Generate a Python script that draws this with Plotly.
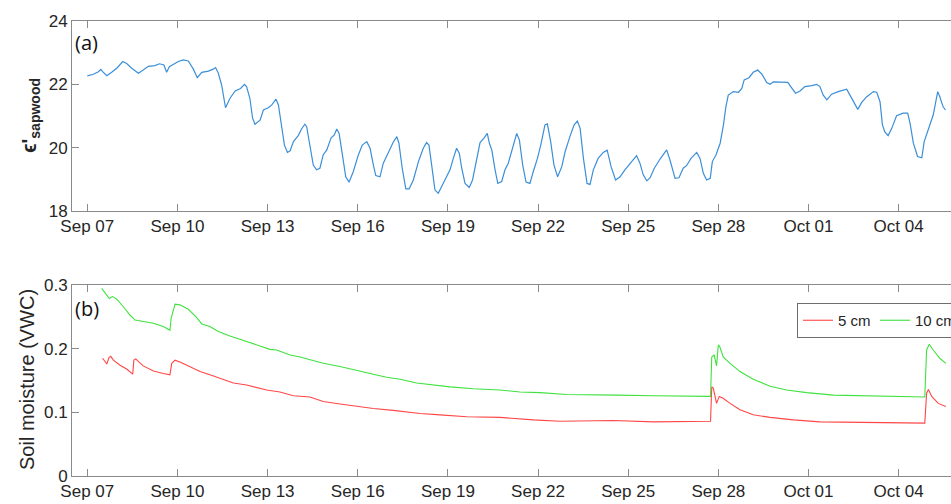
import pandas as pd
import plotly.graph_objects as go

# ---------------- data (days since Sep 07 00:00) ----------------
start = pd.Timestamp("2016-09-07")

sap_days = [0.00, 0.20, 0.37, 0.45, 0.51, 0.65, 0.81, 0.98, 1.18, 1.31, 1.48, 1.70, 1.86, 2.03, 2.25, 2.40,
            2.55, 2.64, 2.73, 2.86, 3.03, 3.19, 3.36, 3.53, 3.66, 3.81, 4.03, 4.19, 4.27, 4.36, 4.47, 4.60,
            4.75, 4.92, 5.10, 5.23, 5.30, 5.41, 5.50, 5.58, 5.75, 5.86, 6.02, 6.14, 6.28, 6.36, 6.47, 6.56,
            6.66, 6.75, 6.86, 7.02, 7.13, 7.24, 7.30, 7.41, 7.52, 7.63, 7.74, 7.85, 7.97, 8.11, 8.22, 8.30,
            8.38, 8.49, 8.60, 8.71, 8.85, 9.02, 9.15, 9.30, 9.41, 9.52, 9.60, 9.74, 9.85, 10.02, 10.18, 10.30,
            10.37, 10.48, 10.60, 10.71, 10.85, 11.02, 11.18, 11.29, 11.37, 11.46, 11.57, 11.68, 11.79, 11.90,
            12.07, 12.18, 12.29, 12.38, 12.46, 12.57, 12.71, 12.82, 12.96, 13.07, 13.20, 13.31, 13.38, 13.46,
            13.57, 13.66, 13.79, 13.90, 14.01, 14.16, 14.29, 14.38, 14.49, 14.60, 14.73, 14.84, 14.98, 15.09,
            15.23, 15.31, 15.42, 15.53, 15.65, 15.79, 15.90, 16.06, 16.20, 16.31, 16.40, 16.51, 16.63, 16.73,
            16.84, 17.00, 17.17, 17.30, 17.43, 17.58, 17.73, 17.89, 18.09, 18.28, 18.39, 18.50, 18.62, 18.73,
            18.87, 19.06, 19.28, 19.39, 19.56, 19.69, 19.83, 19.94, 20.09, 20.28, 20.39, 20.50, 20.61, 20.73,
            20.80, 20.92, 21.06, 21.17, 21.25, 21.33, 21.50, 21.67, 21.78, 21.86, 22.02, 22.16, 22.31, 22.45,
            22.61, 22.72, 22.83, 23.31, 23.44, 23.57, 23.72, 23.88, 24.11, 24.27, 24.38, 24.49, 24.61, 24.77,
            24.99, 25.27, 25.38, 25.55, 25.64, 25.77, 25.94, 26.16, 26.27, 26.38, 26.46, 26.54, 26.65, 26.77,
            26.93, 27.15, 27.30, 27.38, 27.49, 27.63, 27.77, 27.85, 28.01, 28.15, 28.30, 28.37, 28.48, 28.56]
sap_vals = [22.27, 22.32, 22.40, 22.47, 22.40, 22.27, 22.38, 22.51, 22.72, 22.66, 22.51, 22.35, 22.45, 22.57, 22.59, 22.65,
            22.61, 22.38, 22.56, 22.63, 22.72, 22.77, 22.74, 22.48, 22.21, 22.38, 22.42, 22.48, 22.53, 22.35, 21.98, 21.26,
            21.56, 21.79, 21.87, 22.00, 21.93, 21.56, 20.93, 20.74, 20.87, 21.19, 21.26, 21.35, 21.53, 21.35, 20.61, 20.08,
            19.85, 19.90, 20.19, 20.38, 20.59, 20.74, 20.66, 19.98, 19.45, 19.30, 19.35, 19.77, 19.93, 20.30, 20.40, 20.59,
            20.45, 19.77, 19.08, 18.91, 19.24, 19.77, 20.08, 20.19, 19.98, 19.45, 19.12, 19.08, 19.51, 19.85, 20.17, 20.35,
            20.14, 19.35, 18.70, 18.70, 18.98, 19.56, 19.98, 20.16, 20.08, 19.45, 18.66, 18.56, 18.77, 18.95,
            19.30, 19.66, 19.98, 19.82, 19.35, 18.87, 18.74, 18.98, 19.66, 20.16, 20.30, 20.45, 20.14, 19.93,
            19.30, 18.87, 18.93, 19.30, 19.51, 19.98, 20.45, 20.24, 19.45, 18.91, 18.87, 19.24, 19.66, 20.08,
            20.72, 20.75, 20.19, 19.45, 19.08, 19.40, 19.87, 20.35, 20.72, 20.84, 20.61, 19.66, 18.87, 18.84,
            19.30, 19.66, 19.85, 19.92, 19.40, 18.98, 19.08, 19.30, 19.54, 19.75, 19.51, 19.14, 18.95, 19.05,
            19.35, 19.64, 19.93, 19.61, 19.03, 19.05, 19.35, 19.43, 19.66, 19.85, 19.66, 19.19, 18.98, 19.03,
            19.56, 19.77, 20.14, 20.72, 21.29, 21.66, 21.77, 21.75, 21.87, 22.14, 22.21, 22.38, 22.45, 22.32,
            22.06, 22.00, 22.08, 22.06, 21.89, 21.72, 21.79, 21.93, 21.96, 22.00, 21.93, 21.66, 21.51, 21.69,
            21.77, 21.85, 21.66, 21.35, 21.21, 21.43, 21.61, 21.77, 21.75, 21.45, 20.72, 20.50, 20.38, 20.61,
            21.01, 21.09, 21.09, 20.77, 20.14, 19.72, 19.68, 20.19, 20.66, 21.03, 21.77, 21.61, 21.29, 21.19]

cm10_days = [0.48, 0.65, 0.73, 0.84, 0.98, 1.20, 1.42, 1.59, 1.86, 2.20, 2.53, 2.75, 2.79, 2.92, 3.08, 3.36,
             3.62, 3.81, 4.08, 4.36, 4.75, 5.19, 5.64, 6.08, 6.30, 6.75, 7.08, 7.41, 7.85, 8.41, 8.91, 9.41,
             9.96, 10.41, 10.96, 11.51, 12.07, 12.85, 13.73, 14.40, 15.06, 15.95, 16.84, 17.62, 18.84, 19.95,
             20.74, 20.78, 20.86, 20.94, 21.00, 21.05, 21.16, 21.39, 21.72, 22.16, 22.72, 23.27, 23.94, 24.83,
             25.71, 26.60, 27.87, 27.93, 28.02, 28.15, 28.37, 28.57]
cm10_vals = [0.295, 0.284, 0.279, 0.282, 0.278, 0.266, 0.253, 0.245, 0.243, 0.240, 0.235, 0.229, 0.248, 0.270, 0.269, 0.262,
             0.250, 0.239, 0.235, 0.227, 0.220, 0.213, 0.207, 0.199, 0.198, 0.190, 0.187, 0.183, 0.177, 0.172, 0.167, 0.161,
             0.155, 0.152, 0.146, 0.143, 0.140, 0.137, 0.135, 0.132, 0.131, 0.128, 0.128, 0.127, 0.126, 0.126,
             0.125, 0.187, 0.190, 0.173, 0.206, 0.203, 0.187, 0.177, 0.164, 0.152, 0.141, 0.135, 0.131, 0.127,
             0.126, 0.125, 0.124, 0.198, 0.207, 0.198, 0.185, 0.177]

cm5_days = [0.51, 0.65, 0.72, 0.78, 0.87, 1.09, 1.31, 1.51, 1.55, 1.61, 1.86, 2.20, 2.53, 2.75, 2.81, 2.92,
            3.14, 3.42, 3.75, 4.08, 4.42, 4.86, 5.30, 5.97, 6.41, 6.86, 7.41, 7.85, 8.41, 8.96, 9.52, 10.18,
            11.07, 11.74, 12.63, 13.73, 14.84, 15.73, 16.62, 17.50, 18.84, 19.95, 20.74, 20.78, 20.83, 20.94,
            21.03, 21.16, 21.39, 21.72, 22.16, 22.72, 23.50, 24.38, 25.49, 26.60, 27.87, 27.93, 27.99, 28.10,
            28.32, 28.57]
cm5_vals = [0.185, 0.176, 0.186, 0.188, 0.182, 0.174, 0.168, 0.160, 0.182, 0.184, 0.173, 0.165, 0.161, 0.159, 0.177, 0.182,
            0.178, 0.171, 0.164, 0.159, 0.153, 0.146, 0.143, 0.135, 0.132, 0.126, 0.124, 0.117, 0.113, 0.109, 0.106, 0.103,
            0.098, 0.096, 0.093, 0.092, 0.088, 0.086, 0.086, 0.087, 0.085, 0.086, 0.086, 0.140, 0.138, 0.114,
            0.125, 0.122, 0.114, 0.104, 0.096, 0.092, 0.088, 0.085, 0.084, 0.083, 0.083, 0.130, 0.136, 0.125,
            0.114, 0.109]

tick_dates = ["2016-09-07", "2016-09-10", "2016-09-13", "2016-09-16", "2016-09-19", "2016-09-22",
              "2016-09-25", "2016-09-28", "2016-10-01", "2016-10-04"]


def to_time(days):
    return start + pd.to_timedelta(days, unit="D")


# ---------------- figure ----------------
W, H = 951, 504
fig = go.Figure()
fig.add_trace(go.Scatter(x=to_time(sap_days), y=sap_vals, mode="lines", showlegend=False,
                         line=dict(color="#3b8fd8", width=1.2), xaxis="x", yaxis="y"))
fig.add_trace(go.Scatter(x=to_time(cm5_days), y=cm5_vals, mode="lines", name="5 cm",
                         line=dict(color="#ff4747", width=1.1), xaxis="x2", yaxis="y2"))
fig.add_trace(go.Scatter(x=to_time(cm10_days), y=cm10_vals, mode="lines", name="10 cm",
                         line=dict(color="#3fe23f", width=1.1), xaxis="x2", yaxis="y2"))

x_left, x_right = 72, 951
px_per_day = 30.05
x0_px = 87.3
xr = [to_time((x_left - x0_px) / px_per_day), to_time((x_right - x0_px) / px_per_day)]

axcol = "#8a8a8a"
tfont = dict(family="Liberation Sans, Arial, sans-serif", size=17, color="#262626")


def xax(anchor, **kw):
    return dict(domain=[x_left / W, 1.0], range=xr, anchor=anchor, tickmode="array",
                tickvals=tick_dates, tickformat="%b %d", ticks="inside", ticklen=7, tickcolor=axcol,
                showline=True, linecolor=axcol, linewidth=1, mirror="ticks", showgrid=False,
                zeroline=False, tickfont=tfont, automargin=False, **kw)


def yax(anchor, top_px, bot_px, rng, vals):
    return dict(domain=[(H - bot_px) / H, (H - top_px) / H], range=rng, anchor=anchor,
                tickmode="array", tickvals=vals, ticks="inside", ticklen=7, tickcolor=axcol,
                showline=True, linecolor=axcol, linewidth=1, mirror=False, showgrid=False,
                zeroline=False, tickfont=tfont, automargin=False)


fig.update_layout(
    width=W, height=H, margin=dict(l=0, r=0, t=0, b=0, pad=0, autoexpand=False),
    paper_bgcolor="white", plot_bgcolor="white",
    xaxis=xax("y"), xaxis2=xax("y2"),
    yaxis=yax("x", 21, 211, [17.999, 24.001], [18, 20, 22, 24]),
    yaxis2=yax("x2", 285, 476, [-0.0002, 0.3002], [0, 0.1, 0.2, 0.3]),
    legend=dict(orientation="h", x=797 / W, y=(H - 303) / H, xanchor="left", yanchor="top",
                bordercolor="#6e6e6e", borderwidth=1, bgcolor="white",
                font=dict(family="Liberation Sans, Arial, sans-serif", size=15, color="#262626"),
                itemwidth=30, tracegroupgap=0, entrywidth=32, entrywidthmode="pixels"),
    annotations=[
        dict(text="<b>ϵ'<sub>sapwood</sub></b>", xref="paper", yref="paper", x=31 / W, y=(H - 116) / H,
             textangle=-90, showarrow=False, xanchor="center", yanchor="middle",
             font=dict(family="Liberation Sans, Arial, sans-serif", size=20, color="#262626")),
        dict(text="Soil moisture (VWC)", xref="paper", yref="paper", x=27 / W, y=(H - 380) / H,
             textangle=-90, showarrow=False, xanchor="center", yanchor="middle",
             font=dict(family="Liberation Sans, Arial, sans-serif", size=20, color="#262626")),
        dict(text="(a)", xref="paper", yref="paper", x=73 / W, y=(H - 42) / H, showarrow=False,
             xanchor="left", yanchor="middle",
             font=dict(family="Open Sans, sans-serif", size=20, color="#111111")),
        dict(text="(b)", xref="paper", yref="paper", x=73 / W, y=(H - 308) / H, showarrow=False,
             xanchor="left", yanchor="middle",
             font=dict(family="Open Sans, sans-serif", size=20, color="#111111")),
    ],
)

fig.write_html("out.html")
